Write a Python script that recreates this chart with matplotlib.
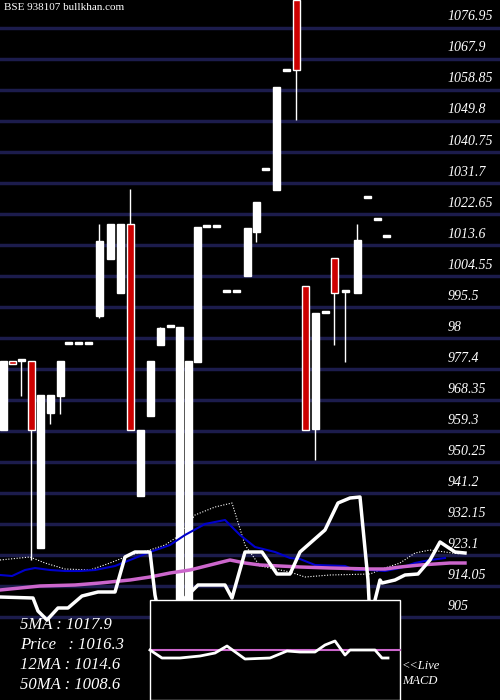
import matplotlib
matplotlib.use("Agg")
import matplotlib.pyplot as plt
from matplotlib.patches import Rectangle

# candle x centres (chart px) and OHLC prices
cx = [3, 12, 21, 31, 40, 50, 60, 68, 78, 88, 99, 110, 120, 130, 140, 150, 160, 170, 179, 188,
      197, 206, 216, 226, 236, 247, 256, 265, 276, 286, 296, 305, 315, 325, 334, 345, 357, 367, 377, 386]
opens = [959.6, 979.8, 979.8, 979.8, 925.2, 964.6, 969.5, 984.7, 984.7, 984.7, 992.9, 1009.5, 999.6, 1019.7, 940.3, 963.7, 984.4, 989.7, 907.0, 910.0,
         979.5, 1018.8, 1018.8, 999.9, 999.9, 1004.6, 1017.4, 1035.5, 1029.7, 1064.4, 1085.1, 1001.6, 959.9, 993.8, 1009.8, 999.9, 999.6, 1027.3, 1020.9, 1015.9]
closes = [979.8, 979.0, 979.8, 959.6, 969.8, 969.8, 979.8, 984.7, 984.7, 984.7, 1014.8, 1019.7, 1019.7, 959.6, 959.6, 979.8, 989.4, 989.7, 989.7, 979.8,
          1018.8, 1018.8, 1018.8, 999.9, 999.9, 1018.6, 1026.2, 1035.5, 1059.7, 1064.4, 1064.7, 959.6, 993.8, 993.8, 999.6, 999.9, 1015.1, 1027.3, 1020.9, 1015.9]
highs = [979.8, 979.8, 979.8, 979.8, 969.8, 969.8, 979.8, 984.7, 984.7, 984.7, 1019.7, 1019.7, 1019.7, 1030.0, 959.6, 979.8, 989.7, 989.7, 989.7, 979.8,
         1018.8, 1018.8, 1018.8, 999.9, 999.9, 1018.6, 1026.2, 1035.5, 1059.7, 1064.4, 1085.1, 1001.6, 993.8, 993.8, 1009.8, 999.9, 1019.7, 1027.3, 1020.9, 1015.9]
lows = [959.6, 979.0, 969.5, 921.7, 925.2, 961.4, 964.3, 984.7, 984.7, 984.7, 992.3, 1009.5, 999.6, 959.6, 940.3, 963.7, 984.4, 989.7, 907.0, 910.0,
        979.5, 1018.8, 1018.8, 999.9, 999.9, 1004.6, 1014.5, 1035.5, 1029.7, 1064.4, 1050.1, 959.6, 950.9, 993.8, 984.4, 979.5, 999.6, 1027.3, 1020.9, 1015.9]

ticks = [1076.95, 1067.9, 1058.85, 1049.8, 1040.75, 1031.7, 1022.65, 1013.6, 1004.55, 995.5, 986.45,
         977.4, 968.35, 959.3, 950.25, 941.2, 932.15, 923.1, 914.05, 905]
tick_labels = ["1076.95", "1067.9", "1058.85", "1049.8", "1040.75", "1031.7", "1022.65", "1013.6", "1004.55",
               "995.5", "98", "977.4", "968.35", "959.3", "950.25", "941.2", "932.15", "923.1", "914.05", "905"]

# indicator lines in overlay pixel space (x, y)
thick_x = [0, 33, 38, 47, 58, 68, 82, 98, 115, 125, 135, 150, 155, 160, 175, 183, 198, 225, 232, 245, 262, 277, 290,
           300, 325, 338, 350, 360, 368, 370, 380, 382, 395, 405, 418, 430, 440, 455, 465]
thick_y = [597, 598, 611, 620, 608, 608, 596, 592, 592, 557, 552, 552, 595, 620, 620, 600, 585, 585, 598, 552, 552, 574, 574,
           552, 530, 503, 498, 497, 580, 620, 580, 583, 580, 575, 574, 560, 542, 552, 553]
blue_x = [0, 12, 25, 35, 50, 65, 80, 95, 115, 130, 150, 170, 185, 205, 225, 240, 255, 275, 290, 300, 315, 345, 355, 370, 385, 400, 415, 430, 445]
blue_y = [575, 576, 570, 568, 570, 571, 571, 570, 566, 560, 552, 545, 535, 524, 520, 535, 547, 552, 558, 559, 565, 566, 570, 570, 571, 568, 563, 560, 558]
dot_x = [0, 30, 45, 65, 90, 110, 130, 150, 165, 180, 195, 215, 232, 245, 260, 290, 305, 330, 370, 385, 400, 415, 430, 445, 460]
dot_y = [560, 557, 563, 569, 570, 563, 555, 550, 545, 535, 515, 507, 503, 545, 566, 572, 577, 575, 574, 568, 563, 553, 550, 552, 554]
pink_x = [0, 40, 75, 100, 130, 150, 170, 190, 210, 230, 245, 260, 300, 330, 370, 385, 400, 420, 450, 465]
pink_y = [590, 586, 585, 583, 580, 577, 573, 570, 565, 560, 563, 565, 567, 568, 569, 569, 567, 565, 563, 563]
macd_x = [150, 162, 180, 200, 215, 227, 245, 270, 287, 300, 315, 325, 335, 345, 350, 375, 382, 388]
macd_y = [650, 658, 658, 656, 653, 646, 659, 658, 651, 652, 652, 645, 641, 655, 650, 650, 658, 658]

legend = ["5MA : 1017.9", "Price   : 1016.3", "12MA : 1014.6", "50MA : 1008.6"]

FONT = "Liberation Serif"
GRID = "#1c1c4c"

fig = plt.figure(figsize=(5, 7), dpi=100, facecolor="black")
ax = fig.add_axes([0, 0, 1, 1])
ax.set_facecolor("black")
ax.set_xlim(0, 500)
ax.set_ylim(880.8, 1085.1)
ax.axis("off")

for t, lab in zip(ticks, tick_labels):
    ax.axhline(t, color=GRID, lw=2.5, zorder=1)
    ax.text(448, t + 1.3, lab, color="white", fontsize=10, family=FONT, style="italic", va="bottom")

w = 7
for x, o, c, h, l in zip(cx, opens, closes, highs, lows):
    ax.vlines(x, l, h, color="white", lw=1, zorder=2)
    lo, hi = min(o, c), max(o, c)
    face = "#cc0000" if c < o else "white"
    ax.add_patch(Rectangle((x - w / 2, lo), w, max(hi - lo, 0.6), facecolor=face,
                           edgecolor="white", lw=1, zorder=3))

ov = fig.add_axes([0, 0, 1, 1])
ov.patch.set_alpha(0)
ov.set_xlim(0, 500)
ov.set_ylim(700, 0)
ov.axis("off")
ov.plot(dot_x, dot_y, color="white", lw=0.8, ls=(0, (1, 1.5)), zorder=4)
ov.plot(blue_x, blue_y, color="#0000cc", lw=1.5, zorder=4)
ov.plot(pink_x, pink_y, color="#cc66cc", lw=2.5, zorder=4)
ov.plot(thick_x, thick_y, color="white", lw=2.5, zorder=5)
ov.add_patch(Rectangle((150, 600), 250, 100, facecolor="black", edgecolor="white", lw=1, zorder=6))
ov.plot([150, 400], [650, 650], color="#cc66cc", lw=1.5, zorder=7)
ov.plot(macd_x, macd_y, color="white", lw=2, zorder=8)

ov.text(4, 8, "BSE 938107 bullkhan.com", color="white", fontsize=8, family=FONT, va="center", zorder=9)
for i, s in enumerate(legend):
    ov.text(20, 625 + i * 20, s, color="white", fontsize=12, family=FONT, style="italic", va="center", zorder=9)
ov.text(402, 666, "<<Live", color="white", fontsize=9, family=FONT, style="italic", va="center", zorder=9)
ov.text(402, 681, "MACD", color="white", fontsize=9, family=FONT, style="italic", va="center", zorder=9)

fig.savefig("out.png", dpi=100, facecolor="black")
